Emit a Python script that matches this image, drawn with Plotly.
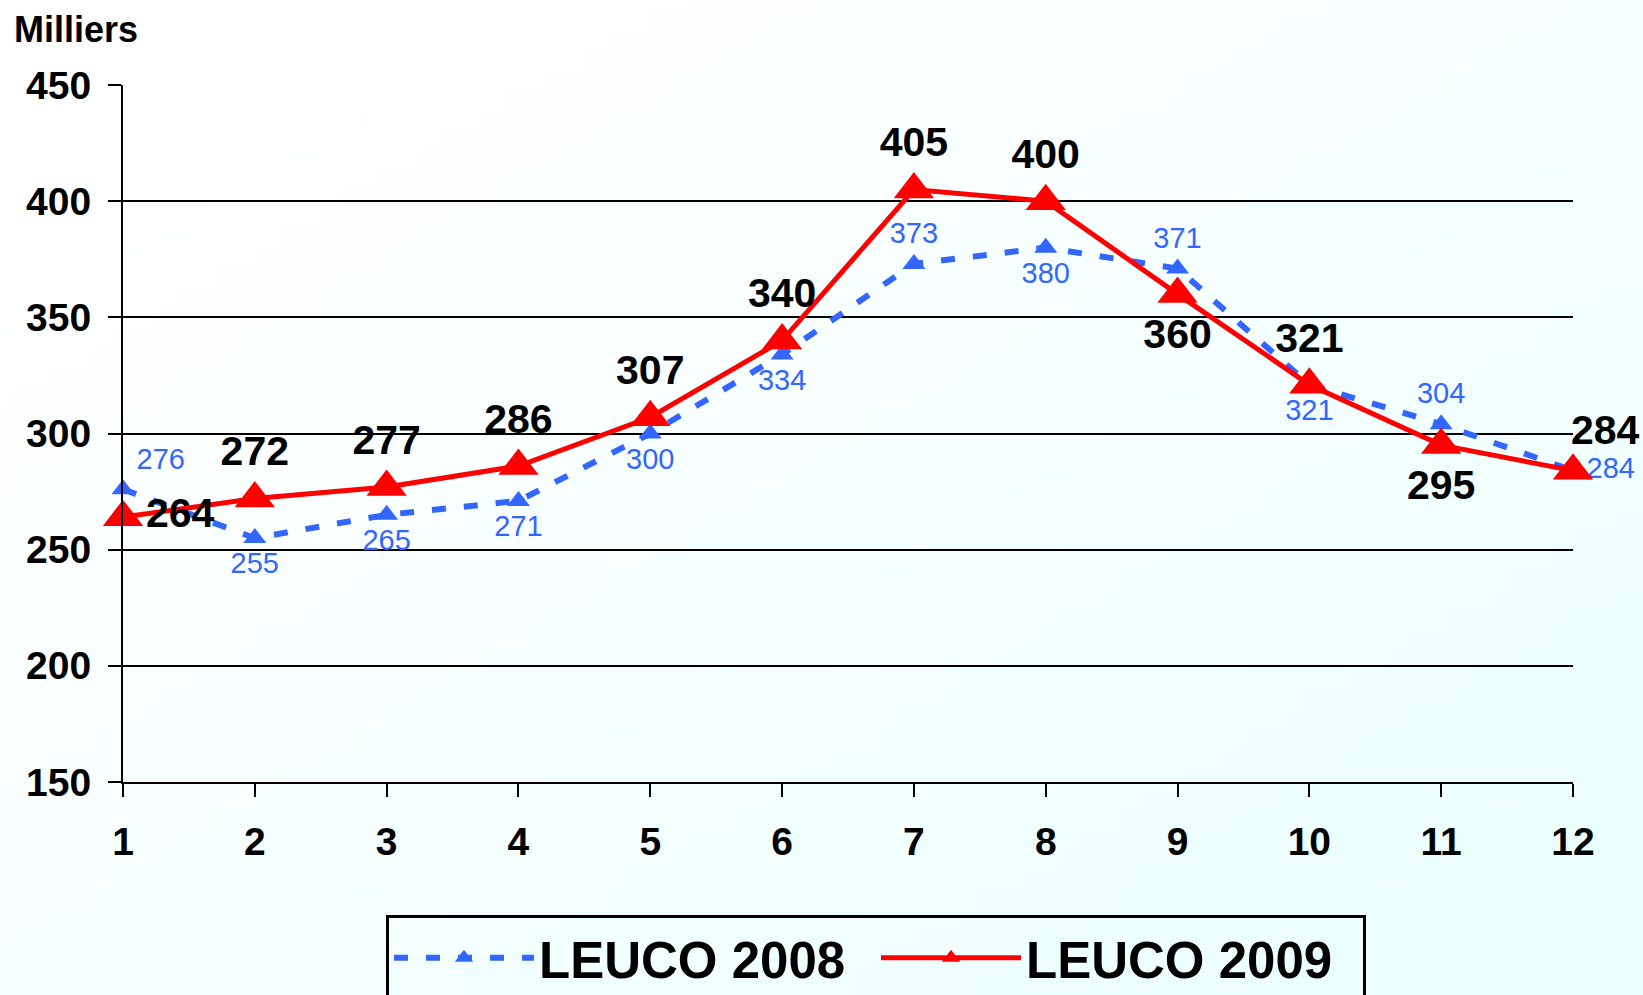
import zlib, struct, base64
import plotly.graph_objects as go

months = list(range(1, 13))
tick_labels = [str(m) for m in months]
leuco_2008 = [276, 255, 265, 271, 300, 334, 373, 380, 371, 321, 304, 284]
leuco_2009 = [264, 272, 277, 286, 307, 340, 405, 400, 360, 321, 295, 284]
pos_2008 = ["top right", "bottom center", "bottom center", "bottom center", "bottom center",
            "bottom center", "top center", "bottom center", "top center", "bottom center",
            "top center", "middle right"]
pos_2009 = ["middle right", "top center", "top center", "top center", "top center",
            "top center", "top center", "top center", "bottom center", "top center",
            "bottom center", None]

W, H = 1643, 995
L, R, T, B = 123, 70, 85, 213
PW, PH = W - L - R, H - T - B


def gradient_png(w, h, c0, c1):
    raw = bytearray()
    for j in range(h):
        raw.append(0)
        for i in range(w):
            t = (i / (w - 1) + j / (h - 1)) / 2
            t = min(1.0, max(0.0, (t - 0.15) / 0.75))
            for k in range(3):
                raw.append(int(round(c0[k] + (c1[k] - c0[k]) * t)))

    def chunk(tag, data):
        return struct.pack(">I", len(data)) + tag + data + struct.pack(">I", zlib.crc32(tag + data) & 0xffffffff)

    png = (b"\x89PNG\r\n\x1a\n"
           + chunk(b"IHDR", struct.pack(">IIBBBBB", w, h, 8, 2, 0, 0, 0))
           + chunk(b"IDAT", zlib.compress(bytes(raw)))
           + chunk(b"IEND", b""))
    return "data:image/png;base64," + base64.b64encode(png).decode()


bg = gradient_png(80, 50, (255, 255, 255), (236, 255, 255))

BLUE = "#3366FF"
RED = "#FF0000"
FONT = "Liberation Sans, Arial"

# last 2009 label is drawn as an annotation (placed right of the point, as in the reference)
text_2009 = [str(v) for v in leuco_2009[:-1]] + [""]
pos_2009[-1] = "top center"

fig = go.Figure()
fig.add_trace(go.Scatter(
    x=months, y=leuco_2008, name="LEUCO 2008", mode="lines+markers+text",
    line=dict(color=BLUE, width=6, dash="14px,18px"),
    marker=dict(symbol="triangle-up", size=20, color=BLUE),
    text=[str(v) for v in leuco_2008], textposition=pos_2008,
    textfont=dict(family=FONT, size=29, color=BLUE),
    cliponaxis=False,
))
fig.add_trace(go.Scatter(
    x=months, y=leuco_2009, name="LEUCO 2009", mode="lines+markers+text",
    line=dict(color=RED, width=5),
    marker=dict(symbol="triangle-up", size=35, color=RED),
    text=text_2009, textposition=pos_2009,
    textfont=dict(family=FONT, size=41, color="black", weight="bold"),
    cliponaxis=False,
))

fig.update_layout(
    width=W, height=H,
    margin=dict(l=L, r=R, t=T, b=B, autoexpand=False),
    paper_bgcolor="white",
    plot_bgcolor="rgba(0,0,0,0)",
    font=dict(family=FONT, color="black"),
    showlegend=True,
    legend=dict(
        orientation="h", x=(386 - L) / PW, y=(H - B - 915) / PH,
        xanchor="left", yanchor="top",
        font=dict(family=FONT, size=51, color="black", weight="bold"),
        bordercolor="black", borderwidth=3, bgcolor="rgba(0,0,0,0)",
        itemwidth=140, entrywidth=332,
    ),
    images=[dict(
        source=bg, xref="paper", yref="paper",
        x=-L / PW, y=(PH + T) / PH, sizex=W / PW, sizey=H / PH,
        xanchor="left", yanchor="top", sizing="stretch", layer="below",
    )],
    annotations=[
        dict(
            text="Milliers", xref="paper", yref="paper",
            x=(12 - L) / PW, y=(PH + T - 29) / PH, xanchor="left", yanchor="middle",
            showarrow=False,
            font=dict(family=FONT, size=36, color="black", weight="bold"),
        ),
        dict(
            text=str(leuco_2009[-1]), x=months[-1], y=leuco_2009[-1], xref="x", yref="y",
            xanchor="center", yanchor="middle", xshift=32, yshift=41, showarrow=False,
            font=dict(family=FONT, size=41, color="black", weight="bold"),
        ),
    ],
)

fig.update_xaxes(
    range=[1, 12], tickmode="array", tickvals=months, ticktext=tick_labels,
    showgrid=False, zeroline=False,
    showline=True, linecolor="black", linewidth=2,
    ticks="outside", ticklen=13, tickwidth=2, tickcolor="black",
    ticklabelstandoff=11,
    tickfont=dict(family=FONT, size=39, color="black", weight="bold"),
)
fig.update_yaxes(
    range=[150, 450], tickmode="array", tickvals=[150, 200, 250, 300, 350, 400, 450],
    showgrid=True, gridcolor="black", gridwidth=2, zeroline=False,
    showline=True, linecolor="black", linewidth=2,
    ticks="outside", ticklen=13, tickwidth=2, tickcolor="black",
    ticklabelstandoff=9,
    tickfont=dict(family=FONT, size=39, color="black", weight="bold"),
)

fig.write_html("out.html", config={"displayModeBar": False},
               post_script="document.body.style.margin='0';")
